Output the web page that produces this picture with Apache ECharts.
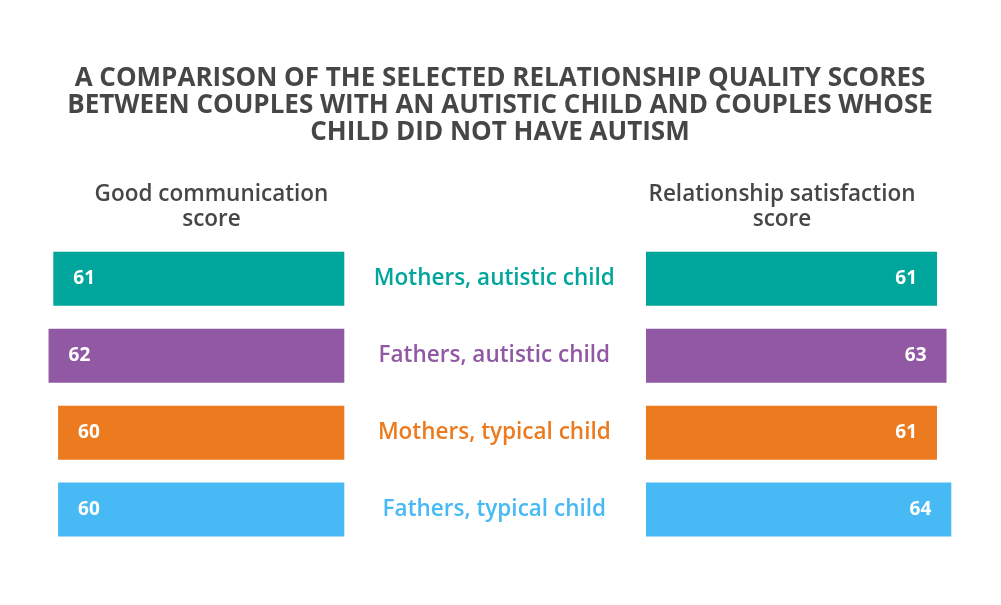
<!DOCTYPE html>
<html>
<head>
    <meta charset="utf-8">
    <title>Relationship quality scores</title>
    <script src="https://cdn.jsdelivr.net/npm/echarts@6/dist/echarts.min.js"></script>
    <style>
        html, body { margin: 0; padding: 0; background: #ffffff; }
        #chart { width: 1001px; height: 605px; }
    </style>
</head>
<body>
<div id="chart"></div>
<script type="text/javascript">
    // data
    var groups = ['Mothers, autistic child', 'Fathers, autistic child', 'Mothers, typical child', 'Fathers, typical child'];
    var communication = [61, 62, 60, 60];
    var satisfaction = [61, 63, 61, 64];
    var colors = ['#00a69c', '#9159a3', '#ec7b20', '#47b9f5'];

    var FONT = '"Open Sans"';
    var DARK = '#464646';

    function barData(values) {
        return values.map(function (v, i) {
            return { value: v, itemStyle: { color: colors[i] } };
        });
    }

    var myChart = echarts.init(document.getElementById('chart'));

    myChart.setOption({
        backgroundColor: '#ffffff',
        animation: false,
        graphic: [
            {
                type: 'text', x: 500, y: 65,
                style: {
                    text: 'A COMPARISON OF THE SELECTED RELATIONSHIP QUALITY SCORES\nBETWEEN COUPLES WITH AN AUTISTIC CHILD AND COUPLES WHOSE\nCHILD DID NOT HAVE AUTISM',
                    textAlign: 'center', textVerticalAlign: 'top',
                    font: 'bold 26px ' + FONT, lineHeight: 27, fill: DARK
                }
            },
            {
                type: 'text', x: 211.5, y: 182.5,
                style: {
                    text: 'Good communication\nscore', textAlign: 'center', textVerticalAlign: 'top',
                    font: '600 22.5px ' + FONT, lineHeight: 25, fill: DARK
                }
            },
            {
                type: 'text', x: 782, y: 182.5,
                style: {
                    text: 'Relationship satisfaction\nscore', textAlign: 'center', textVerticalAlign: 'top',
                    font: '600 22.5px ' + FONT, lineHeight: 25, fill: DARK
                }
            }
        ],
        grid: [
            { left: 39, width: 305.3, top: 240.4, height: 307.6 },
            { left: 646, width: 305.3, top: 240.4, height: 307.6 }
        ],
        xAxis: [
            {
                gridIndex: 0, type: 'value', min: 0, max: 64, inverse: true,
                axisLine: { show: false }, axisTick: { show: false },
                axisLabel: { show: false }, splitLine: { show: false }
            },
            {
                gridIndex: 1, type: 'value', min: 0, max: 64,
                axisLine: { show: false }, axisTick: { show: false },
                axisLabel: { show: false }, splitLine: { show: false }
            }
        ],
        yAxis: [
            {
                gridIndex: 0, type: 'category', data: groups, inverse: true,
                position: 'right',
                axisLine: { show: false }, axisTick: { show: false },
                axisLabel: {
                    show: true, margin: 150, align: 'center',
                    fontFamily: FONT, fontSize: 22.5, fontWeight: 600,
                    color: function (value, index) { return colors[index]; }
                }
            },
            {
                gridIndex: 1, type: 'category', data: groups, inverse: true,
                axisLine: { show: false }, axisTick: { show: false },
                axisLabel: { show: false }
            }
        ],
        series: [
            {
                name: 'Good communication score', type: 'bar',
                xAxisIndex: 0, yAxisIndex: 0, barWidth: 54,
                data: barData(communication),
                label: {
                    show: true, position: 'insideLeft', distance: 20,
                    color: '#ffffff', fontFamily: FONT, fontWeight: 'bold', fontSize: 19
                }
            },
            {
                name: 'Relationship satisfaction score', type: 'bar',
                xAxisIndex: 1, yAxisIndex: 1, barWidth: 54,
                data: barData(satisfaction),
                label: {
                    show: true, position: 'insideRight', distance: 20,
                    color: '#ffffff', fontFamily: FONT, fontWeight: 'bold', fontSize: 19
                }
            }
        ]
    });
</script>
</body>
</html>
